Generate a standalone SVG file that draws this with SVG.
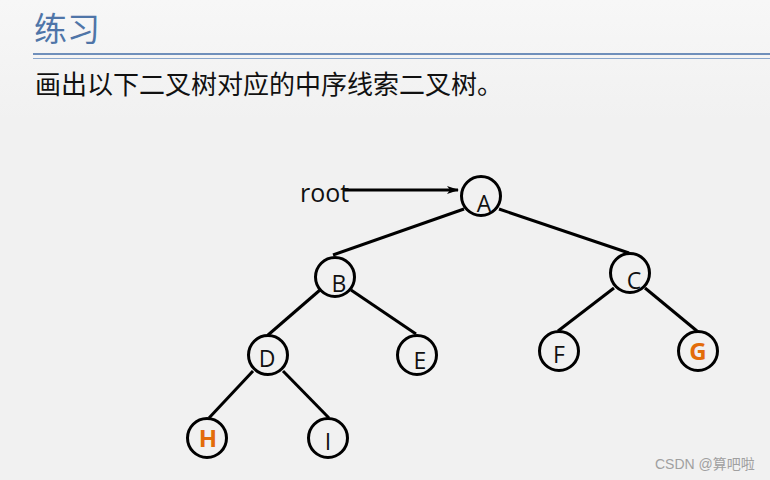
<svg xmlns="http://www.w3.org/2000/svg" width="770" height="480" viewBox="0 0 770 480">
<defs>
<linearGradient id="bg" x1="0" y1="0" x2="0" y2="1">
<stop offset="0" stop-color="#f7f7f7"/>
<stop offset="0.25" stop-color="#f1f1f1"/>
<stop offset="1" stop-color="#f1f1f1"/>
</linearGradient>
<marker id="arr" markerWidth="12" markerHeight="8" refX="11" refY="4" orient="auto" markerUnits="userSpaceOnUse">
<path d="M0,0 L12,4 L0,8 L3,4 Z" fill="#000"/>
</marker>
<style>
.n circle{fill:#f1f1f1;stroke:#000;stroke-width:3}
.n text{font-family:"Open Sans","Noto Sans",sans-serif;font-size:23px;fill:#111;text-anchor:middle}
.n text.o{fill:#e36c0a;font-weight:bold;font-size:24px}
#edges line{stroke:#000;stroke-width:3}
</style>
</defs>
<rect width="770" height="480" fill="url(#bg)"/>
<text x="34" y="41" font-family="'Noto Sans CJK SC',sans-serif" font-size="33" fill="#4f75a8">练习</text>
<line x1="33" y1="54" x2="770" y2="54" stroke="#6f8fbb" stroke-width="2"/>
<line x1="33" y1="58.5" x2="770" y2="58.5" stroke="#8aa6cc" stroke-width="1"/>
<text x="35" y="94" font-family="'Noto Sans CJK SC',sans-serif" font-size="26" fill="#111">画出以下二叉树对应的中序线索二叉树。</text>
<g id="edges">
<line x1="464" y1="209" x2="333" y2="255"/>
<line x1="499" y1="209" x2="629" y2="253"/>
<line x1="320" y1="290" x2="268" y2="335"/>
<line x1="351" y1="290" x2="416" y2="334"/>
<line x1="253" y1="371" x2="209" y2="418"/>
<line x1="283" y1="371" x2="329" y2="418"/>
<line x1="614" y1="288" x2="558" y2="331"/>
<line x1="645" y1="288" x2="697" y2="331"/>
<line x1="343" y1="190" x2="458" y2="190" stroke-width="2.5" marker-end="url(#arr)"/>
</g>
<text x="300" y="202" font-family="'Open Sans','Noto Sans',sans-serif" font-size="25" fill="#111">root</text>
<g id="A" class="n"><circle cx="481" cy="196" r="19.5"/><text x="484" y="212">A</text></g>
<g id="B" class="n"><circle cx="335" cy="277" r="19.5"/><text x="339" y="292">B</text></g>
<g id="C" class="n"><circle cx="630" cy="273" r="19.5"/><text x="634" y="289">C</text></g>
<g id="D" class="n"><circle cx="268" cy="355" r="19.5"/><text x="267" y="367">D</text></g>
<g id="E" class="n"><circle cx="417" cy="355" r="19.5"/><text x="420" y="369">E</text></g>
<g id="F" class="n"><circle cx="559" cy="351" r="19.5"/><text x="559" y="363">F</text></g>
<g id="G" class="n"><circle cx="698" cy="351" r="19.5"/><text class="o" x="698" y="360">G</text></g>
<g id="H" class="n"><circle cx="207" cy="438" r="19.5"/><text class="o" x="208" y="447">H</text></g>
<g id="I" class="n"><circle cx="328" cy="438" r="19.5"/><text x="328" y="450">I</text></g>
<text x="655" y="469" font-family="'Liberation Sans','Noto Sans CJK SC',sans-serif" font-size="14" fill="#a0a0a0">CSDN @算吧啦</text>
</svg>
